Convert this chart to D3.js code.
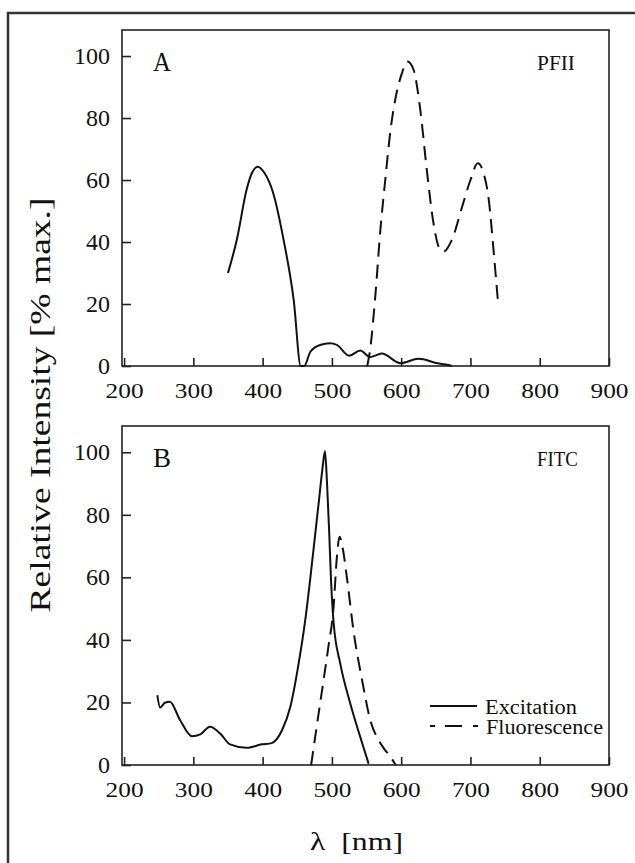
<html>
<head>
  <script src="https://d3js.org/d3.v7.min.js"></script>
  <style>
    body { margin: 0; background: #fff; }
    text { font-family: "Liberation Serif", "Times New Roman", serif; fill: #111; }
    .frame { fill: none; stroke: #222; stroke-width: 1.6px; }
    .tick line { stroke: #222; stroke-width: 1.6px; }
    .curve { fill: none; stroke: #111; stroke-width: 2px; }
  </style>
</head>
<body>
  <svg id="chart" width="635" height="863"></svg>
  <script>
    // wavelength (nm) / relative intensity (% max.)
    const pfiiExcitation = [
      [350, 30], [363, 41], [377, 57], [385, 62.5], [393, 64.3], [402, 62.5], [415, 56], [430, 41],
      [445, 21], [455, 0],
      [460, 0], [469, 4.6], [483, 6.8], [497, 7.3], [507, 6.8], [525, 3.3], [541, 5], [555, 2.9],
      [572, 4], [599, 0.9], [625, 2.3], [652, 0.9], [668, 0.3], [673, 0]
    ];
    const pfiiFluorescence = [
      [551, 0], [555, 5], [563, 23.5], [570, 44], [577, 60], [584, 75], [591.5, 86], [601, 94.4],
      [609, 98.2], [618, 95.5], [627.6, 82.6], [637, 63.2], [646.7, 46], [656.5, 37.4], [661, 36.9],
      [673, 40.6], [688, 51.4], [700, 60], [710.6, 65.4], [719, 62.2], [726.5, 53.5], [733.7, 36.4],
      [739.5, 21.3]
    ];
    const fitcExcitation = [
      [248, 22.3], [252, 18.4], [259, 19.9], [266, 20.2], [281, 14.3], [298, 9.2], [310, 9.8],
      [324, 12.2], [339, 10], [353, 6.6], [377, 5.5], [399, 6.6], [413, 7], [428, 11.1], [440, 18.6],
      [452, 32.5], [461.6, 46.5], [468.6, 59.3], [475, 72], [482, 86], [487, 96], [490, 100.3],
      [493, 90], [496, 75], [498.7, 59.3], [502.5, 45.4], [512, 32.5], [526.5, 19.7], [541, 8.9],
      [553, 0.4]
    ];
    const fitcFluorescence = [
      [470, 0], [478, 12.2], [488, 27.2], [495, 37.9], [502.5, 50.7], [507, 66], [511, 73],
      [515, 70], [522, 59.3], [531, 43.2], [543.5, 27.2], [555.5, 14.3], [567.5, 7.9], [576, 5],
      [584, 2.8], [592, 0]
    ];
    const xTicks = [200, 300, 400, 500, 600, 700, 800, 900];
    const yTicks = [0, 20, 40, 60, 80, 100];
    const panelLetters = ["A", "B"];
    const dyeNames = ["PFII", "FITC"];
    const legendLabels = ["Excitation", "Fluorescence"];

    const svg = d3.select('svg#chart');
    const left = 122, right = 609;

    // outer border of the figure (runs off the right and bottom edges)
    svg.append('rect')
      .attr('x', 8).attr('y', 13).attr('width', 700).attr('height', 900)
      .attr('fill', 'none').attr('stroke', '#333').attr('stroke-width', 2.5);

    const x = d3.scaleLinear().domain([197, 900]).range([left, right]);

    const panels = [
      { top: 30, bottom: 366, exc: pfiiExcitation, flu: pfiiFluorescence },
      { top: 426, bottom: 765, exc: fitcExcitation, flu: fitcFluorescence }
    ];

    panels.forEach(function (p, i) {
      let y = d3.scaleLinear().domain([0, 108.4]).range([p.bottom, p.top]);
      let g = svg.append('g');

      let xAxis = g.append('g')
        .attr('transform', `translate(0,${p.bottom})`)
        .call(d3.axisBottom(x).tickValues(xTicks).tickSizeInner(-8).tickSizeOuter(0).tickPadding(16.5))
        .attr('font-family', null);
      xAxis.select('.domain').remove();
      xAxis.selectAll('text')
        .attr('font-size', 22).attr('fill', '#111')
        .attr('textLength', 38).attr('lengthAdjust', 'spacingAndGlyphs');

      let yAxis = g.append('g')
        .attr('transform', `translate(${left},0)`)
        .call(d3.axisLeft(y).tickValues(yTicks).tickSizeInner(-9).tickSizeOuter(0).tickPadding(12))
        .attr('font-family', null);
      yAxis.select('.domain').remove();
      yAxis.selectAll('text')
        .attr('font-size', 23).attr('fill', '#111')
        .attr('textLength', d => String(d).length * 12)
        .attr('lengthAdjust', 'spacingAndGlyphs');

      g.append('rect').attr('class', 'frame')
        .attr('x', left).attr('y', p.top)
        .attr('width', right - left).attr('height', p.bottom - p.top);

      let line = d3.line()
        .x(d => x(d[0]))
        .y(d => y(d[1]))
        .curve(d3.curveMonotoneX);

      g.append('path').attr('class', 'curve').attr('d', line(p.exc));
      g.append('path').attr('class', 'curve')
        .attr('stroke-dasharray', '14,8')
        .attr('d', line(p.flu));

      g.append('text')
        .attr('x', 153).attr('y', p.top + 41)
        .attr('font-size', 28)
        .attr('textLength', 18).attr('lengthAdjust', 'spacingAndGlyphs')
        .text(panelLetters[i]);

      g.append('text')
        .attr('x', 537).attr('y', p.top + 40)
        .attr('font-size', 21)
        .attr('textLength', i === 0 ? 38 : 41).attr('lengthAdjust', 'spacingAndGlyphs')
        .text(dyeNames[i]);

      if (i === 1) {
        let leg = g.append('g');
        leg.append('line')
          .attr('x1', 430).attr('x2', 477).attr('y1', 706).attr('y2', 706)
          .attr('stroke', '#111').attr('stroke-width', 1.8);
        leg.append('line')
          .attr('x1', 430).attr('x2', 478).attr('y1', 726).attr('y2', 726)
          .attr('stroke', '#111').attr('stroke-width', 1.8)
          .attr('stroke-dasharray', '5,10,17,11,5');
        leg.append('text')
          .attr('x', 485).attr('y', 714).attr('font-size', 20)
          .attr('textLength', 92).attr('lengthAdjust', 'spacingAndGlyphs')
          .text(legendLabels[0]);
        leg.append('text')
          .attr('x', 486).attr('y', 734).attr('font-size', 20)
          .attr('textLength', 117).attr('lengthAdjust', 'spacingAndGlyphs')
          .text(legendLabels[1]);
      }
    });

    // axis titles
    svg.append('text')
      .attr('transform', 'translate(50,405) rotate(-90)')
      .attr('text-anchor', 'middle')
      .attr('font-size', 29)
      .attr('textLength', 415).attr('lengthAdjust', 'spacingAndGlyphs')
      .text('Relative Intensity [% max.]');

    svg.append('text')
      .attr('x', 310).attr('y', 850)
      .attr('font-size', 26)
      .attr('textLength', 93).attr('lengthAdjust', 'spacingAndGlyphs')
      .text('λ\u00a0\u00a0[nm]');
  </script>
</body>
</html>
